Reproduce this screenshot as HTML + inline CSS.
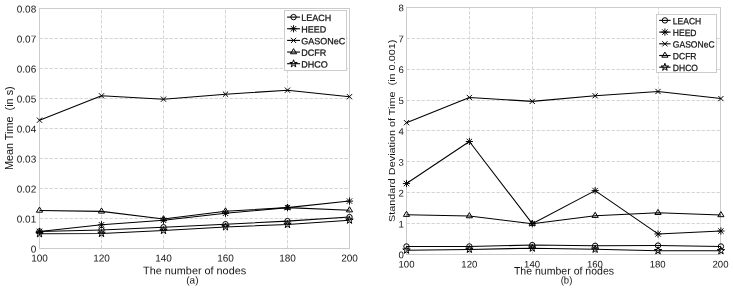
<!DOCTYPE html>
<html><head><meta charset="utf-8"><title>Mean time and standard deviation</title>
<style>html,body{margin:0;padding:0;background:#fff}svg{display:block;will-change:transform;filter:grayscale(1);font-family:"Liberation Sans",sans-serif}</style></head>
<body>
<svg width="733" height="290" viewBox="0 0 733 290" >
<rect width="733" height="290" fill="#fff"/>
<path d="M101.50 248.50L101.50 8.50M163.50 248.50L163.50 8.50M225.50 248.50L225.50 8.50M287.50 248.50L287.50 8.50M39.50 218.50L349.50 218.50M39.50 188.50L349.50 188.50M39.50 158.50L349.50 158.50M39.50 128.50L349.50 128.50M39.50 98.50L349.50 98.50M39.50 68.50L349.50 68.50M39.50 38.50L349.50 38.50" fill="none" stroke="#cacaca" stroke-width="0.8" stroke-dasharray="3.4 1.6"/>
<rect x="39.50" y="8.50" width="310.00" height="240.00" fill="none" stroke="#cccccc" stroke-width="1"/>
<text transform="translate(39.50 261.60) rotate(0.03) scale(1.0 1)" font-size="10" text-anchor="middle" fill="#151515">100</text>
<text transform="translate(101.50 261.60) rotate(0.03) scale(1.0 1)" font-size="10" text-anchor="middle" fill="#151515">120</text>
<text transform="translate(163.50 261.60) rotate(0.03) scale(1.0 1)" font-size="10" text-anchor="middle" fill="#151515">140</text>
<text transform="translate(225.50 261.60) rotate(0.03) scale(1.0 1)" font-size="10" text-anchor="middle" fill="#151515">160</text>
<text transform="translate(287.50 261.60) rotate(0.03) scale(1.0 1)" font-size="10" text-anchor="middle" fill="#151515">180</text>
<text transform="translate(349.50 261.60) rotate(0.03) scale(1.0 1)" font-size="10" text-anchor="middle" fill="#151515">200</text>
<text transform="translate(36.20 252.58) rotate(0.03) scale(1.0 1)" font-size="10" text-anchor="end" fill="#151515">0</text>
<text transform="translate(36.20 222.58) rotate(0.03) scale(1.0 1)" font-size="10" text-anchor="end" fill="#151515">0.01</text>
<text transform="translate(36.20 192.58) rotate(0.03) scale(1.0 1)" font-size="10" text-anchor="end" fill="#151515">0.02</text>
<text transform="translate(36.20 162.58) rotate(0.03) scale(1.0 1)" font-size="10" text-anchor="end" fill="#151515">0.03</text>
<text transform="translate(36.20 132.58) rotate(0.03) scale(1.0 1)" font-size="10" text-anchor="end" fill="#151515">0.04</text>
<text transform="translate(36.20 102.58) rotate(0.03) scale(1.0 1)" font-size="10" text-anchor="end" fill="#151515">0.05</text>
<text transform="translate(36.20 72.58) rotate(0.03) scale(1.0 1)" font-size="10" text-anchor="end" fill="#151515">0.06</text>
<text transform="translate(36.20 42.58) rotate(0.03) scale(1.0 1)" font-size="10" text-anchor="end" fill="#151515">0.07</text>
<text transform="translate(36.20 12.58) rotate(0.03) scale(1.0 1)" font-size="10" text-anchor="end" fill="#151515">0.08</text>
<text transform="translate(194.60 274.20) rotate(0.03) scale(1.0 1)" font-size="10.85" text-anchor="middle" fill="#151515">The number of nodes</text>
<text transform="translate(192.40 283.50) rotate(0.03) scale(1.0 1)" font-size="10" text-anchor="middle" fill="#151515">(a)</text>
<text transform="translate(12.80 128.20) rotate(-90) scale(1 1.0)" font-size="10.85" text-anchor="middle" fill="#151515" xml:space="preserve" style="white-space:pre">Mean Time  (in s)</text>
<path d="M39.50 231.40L101.50 229.90L163.50 227.20L225.50 224.20L287.50 221.11L349.50 217.09" fill="none" stroke="#000" stroke-width="1.05" stroke-linejoin="round"/>
<circle transform="translate(39.50 231.40) scale(1.0 1)" r="2.7" fill="none" stroke="#000" stroke-width="1.0"/>
<circle transform="translate(101.50 229.90) scale(1.0 1)" r="2.7" fill="none" stroke="#000" stroke-width="1.0"/>
<circle transform="translate(163.50 227.20) scale(1.0 1)" r="2.7" fill="none" stroke="#000" stroke-width="1.0"/>
<circle transform="translate(225.50 224.20) scale(1.0 1)" r="2.7" fill="none" stroke="#000" stroke-width="1.0"/>
<circle transform="translate(287.50 221.11) scale(1.0 1)" r="2.7" fill="none" stroke="#000" stroke-width="1.0"/>
<circle transform="translate(349.50 217.09) scale(1.0 1)" r="2.7" fill="none" stroke="#000" stroke-width="1.0"/>
<path d="M39.50 231.40L101.50 224.80L163.50 220.30L225.50 213.31L287.50 207.61L349.50 201.10" fill="none" stroke="#000" stroke-width="1.05" stroke-linejoin="round"/>
<path transform="translate(39.50 231.40) scale(1.0 1)" d="M-2.7 -2.7L2.7 2.7M-2.7 2.7L2.7 -2.7M-3.6 0L3.6 0M0 -3.6L0 3.6" fill="none" stroke="#000" stroke-width="0.95"/>
<path transform="translate(101.50 224.80) scale(1.0 1)" d="M-2.7 -2.7L2.7 2.7M-2.7 2.7L2.7 -2.7M-3.6 0L3.6 0M0 -3.6L0 3.6" fill="none" stroke="#000" stroke-width="0.95"/>
<path transform="translate(163.50 220.30) scale(1.0 1)" d="M-2.7 -2.7L2.7 2.7M-2.7 2.7L2.7 -2.7M-3.6 0L3.6 0M0 -3.6L0 3.6" fill="none" stroke="#000" stroke-width="0.95"/>
<path transform="translate(225.50 213.31) scale(1.0 1)" d="M-2.7 -2.7L2.7 2.7M-2.7 2.7L2.7 -2.7M-3.6 0L3.6 0M0 -3.6L0 3.6" fill="none" stroke="#000" stroke-width="0.95"/>
<path transform="translate(287.50 207.61) scale(1.0 1)" d="M-2.7 -2.7L2.7 2.7M-2.7 2.7L2.7 -2.7M-3.6 0L3.6 0M0 -3.6L0 3.6" fill="none" stroke="#000" stroke-width="0.95"/>
<path transform="translate(349.50 201.10) scale(1.0 1)" d="M-2.7 -2.7L2.7 2.7M-2.7 2.7L2.7 -2.7M-3.6 0L3.6 0M0 -3.6L0 3.6" fill="none" stroke="#000" stroke-width="0.95"/>
<path d="M39.50 120.19L101.50 95.80L163.50 99.19L225.50 94.21L287.50 90.19L349.50 96.70" fill="none" stroke="#000" stroke-width="1.05" stroke-linejoin="round"/>
<path transform="translate(39.50 120.19) scale(1.0 1)" d="M-2.6 -2.6L2.6 2.6M-2.6 2.6L2.6 -2.6" fill="none" stroke="#000" stroke-width="1.0"/>
<path transform="translate(101.50 95.80) scale(1.0 1)" d="M-2.6 -2.6L2.6 2.6M-2.6 2.6L2.6 -2.6" fill="none" stroke="#000" stroke-width="1.0"/>
<path transform="translate(163.50 99.19) scale(1.0 1)" d="M-2.6 -2.6L2.6 2.6M-2.6 2.6L2.6 -2.6" fill="none" stroke="#000" stroke-width="1.0"/>
<path transform="translate(225.50 94.21) scale(1.0 1)" d="M-2.6 -2.6L2.6 2.6M-2.6 2.6L2.6 -2.6" fill="none" stroke="#000" stroke-width="1.0"/>
<path transform="translate(287.50 90.19) scale(1.0 1)" d="M-2.6 -2.6L2.6 2.6M-2.6 2.6L2.6 -2.6" fill="none" stroke="#000" stroke-width="1.0"/>
<path transform="translate(349.50 96.70) scale(1.0 1)" d="M-2.6 -2.6L2.6 2.6M-2.6 2.6L2.6 -2.6" fill="none" stroke="#000" stroke-width="1.0"/>
<path d="M39.50 210.49L101.50 211.39L163.50 219.10L225.50 211.21L287.50 207.61L349.50 210.19" fill="none" stroke="#000" stroke-width="1.05" stroke-linejoin="round"/>
<path transform="translate(39.50 210.49) scale(1.0 1)" d="M0 -3.4L3.1 1.7L-3.1 1.7Z" fill="none" stroke="#000" stroke-width="1.0"/>
<path transform="translate(101.50 211.39) scale(1.0 1)" d="M0 -3.4L3.1 1.7L-3.1 1.7Z" fill="none" stroke="#000" stroke-width="1.0"/>
<path transform="translate(163.50 219.10) scale(1.0 1)" d="M0 -3.4L3.1 1.7L-3.1 1.7Z" fill="none" stroke="#000" stroke-width="1.0"/>
<path transform="translate(225.50 211.21) scale(1.0 1)" d="M0 -3.4L3.1 1.7L-3.1 1.7Z" fill="none" stroke="#000" stroke-width="1.0"/>
<path transform="translate(287.50 207.61) scale(1.0 1)" d="M0 -3.4L3.1 1.7L-3.1 1.7Z" fill="none" stroke="#000" stroke-width="1.0"/>
<path transform="translate(349.50 210.19) scale(1.0 1)" d="M0 -3.4L3.1 1.7L-3.1 1.7Z" fill="none" stroke="#000" stroke-width="1.0"/>
<path d="M39.50 233.80L101.50 233.50L163.50 230.50L225.50 226.90L287.50 224.50L349.50 220.21" fill="none" stroke="#000" stroke-width="1.05" stroke-linejoin="round"/>
<path transform="translate(39.50 233.80) scale(1.0 1)" d="M0.00 -3.90L0.89 -1.23L3.71 -1.21L1.45 0.47L2.29 3.16L0.00 1.52L-2.29 3.16L-1.45 0.47L-3.71 -1.21L-0.89 -1.23Z" fill="none" stroke="#000" stroke-width="1.0" stroke-miterlimit="2"/>
<path transform="translate(101.50 233.50) scale(1.0 1)" d="M0.00 -3.90L0.89 -1.23L3.71 -1.21L1.45 0.47L2.29 3.16L0.00 1.52L-2.29 3.16L-1.45 0.47L-3.71 -1.21L-0.89 -1.23Z" fill="none" stroke="#000" stroke-width="1.0" stroke-miterlimit="2"/>
<path transform="translate(163.50 230.50) scale(1.0 1)" d="M0.00 -3.90L0.89 -1.23L3.71 -1.21L1.45 0.47L2.29 3.16L0.00 1.52L-2.29 3.16L-1.45 0.47L-3.71 -1.21L-0.89 -1.23Z" fill="none" stroke="#000" stroke-width="1.0" stroke-miterlimit="2"/>
<path transform="translate(225.50 226.90) scale(1.0 1)" d="M0.00 -3.90L0.89 -1.23L3.71 -1.21L1.45 0.47L2.29 3.16L0.00 1.52L-2.29 3.16L-1.45 0.47L-3.71 -1.21L-0.89 -1.23Z" fill="none" stroke="#000" stroke-width="1.0" stroke-miterlimit="2"/>
<path transform="translate(287.50 224.50) scale(1.0 1)" d="M0.00 -3.90L0.89 -1.23L3.71 -1.21L1.45 0.47L2.29 3.16L0.00 1.52L-2.29 3.16L-1.45 0.47L-3.71 -1.21L-0.89 -1.23Z" fill="none" stroke="#000" stroke-width="1.0" stroke-miterlimit="2"/>
<path transform="translate(349.50 220.21) scale(1.0 1)" d="M0.00 -3.90L0.89 -1.23L3.71 -1.21L1.45 0.47L2.29 3.16L0.00 1.52L-2.29 3.16L-1.45 0.47L-3.71 -1.21L-0.89 -1.23Z" fill="none" stroke="#000" stroke-width="1.0" stroke-miterlimit="2"/>
<rect x="284.50" y="10.50" width="62.00" height="60.00" fill="#fff" stroke="#cccccc" stroke-width="1"/>
<path d="M287.10 17.10L300.00 17.10" stroke="#000" stroke-width="1.1"/>
<circle transform="translate(293.55 17.10) scale(1.0 1)" r="2.7" fill="none" stroke="#000" stroke-width="1.0"/>
<text transform="translate(301.30 20.87) rotate(0.03) scale(1.0 1)" font-size="9.0" text-anchor="start" fill="#151515" stroke="#151515" stroke-width="0.25">LEACH</text>
<path d="M287.10 28.75L300.00 28.75" stroke="#000" stroke-width="1.1"/>
<path transform="translate(293.55 28.75) scale(1.0 1)" d="M-2.7 -2.7L2.7 2.7M-2.7 2.7L2.7 -2.7M-3.6 0L3.6 0M0 -3.6L0 3.6" fill="none" stroke="#000" stroke-width="0.95"/>
<text transform="translate(301.30 32.52) rotate(0.03) scale(1.0 1)" font-size="9.0" text-anchor="start" fill="#151515" stroke="#151515" stroke-width="0.25">HEED</text>
<path d="M287.10 40.40L300.00 40.40" stroke="#000" stroke-width="1.1"/>
<path transform="translate(293.55 40.40) scale(1.0 1)" d="M-2.6 -2.6L2.6 2.6M-2.6 2.6L2.6 -2.6" fill="none" stroke="#000" stroke-width="1.0"/>
<text transform="translate(301.30 44.17) rotate(0.03) scale(1.0 1)" font-size="9.0" text-anchor="start" fill="#151515" stroke="#151515" stroke-width="0.25">GASONeC</text>
<path d="M287.10 52.05L300.00 52.05" stroke="#000" stroke-width="1.1"/>
<path transform="translate(293.55 52.05) scale(1.0 1)" d="M0 -3.4L3.1 1.7L-3.1 1.7Z" fill="none" stroke="#000" stroke-width="1.0"/>
<text transform="translate(301.30 55.82) rotate(0.03) scale(1.0 1)" font-size="9.0" text-anchor="start" fill="#151515" stroke="#151515" stroke-width="0.25">DCFR</text>
<path d="M287.10 63.70L300.00 63.70" stroke="#000" stroke-width="1.1"/>
<path transform="translate(293.55 63.70) scale(1.0 1)" d="M0.00 -3.90L0.89 -1.23L3.71 -1.21L1.45 0.47L2.29 3.16L0.00 1.52L-2.29 3.16L-1.45 0.47L-3.71 -1.21L-0.89 -1.23Z" fill="none" stroke="#000" stroke-width="1.0" stroke-miterlimit="2"/>
<text transform="translate(301.30 67.47) rotate(0.03) scale(1.0 1)" font-size="9.0" text-anchor="start" fill="#151515" stroke="#151515" stroke-width="0.25">DHCO</text>
<path d="M469.50 254.50L469.50 7.50M532.50 254.50L532.50 7.50M595.50 254.50L595.50 7.50M658.50 254.50L658.50 7.50M406.50 223.50L720.50 223.50M406.50 192.50L720.50 192.50M406.50 161.50L720.50 161.50M406.50 130.50L720.50 130.50M406.50 100.50L720.50 100.50M406.50 69.50L720.50 69.50M406.50 38.50L720.50 38.50" fill="none" stroke="#cacaca" stroke-width="0.8" stroke-dasharray="3.4 1.6"/>
<rect x="406.50" y="7.50" width="314.00" height="247.00" fill="none" stroke="#cccccc" stroke-width="1"/>
<text transform="translate(406.50 267.60) rotate(0.03) scale(1.0 1)" font-size="9.6" text-anchor="middle" fill="#151515">100</text>
<text transform="translate(469.30 267.60) rotate(0.03) scale(1.0 1)" font-size="9.6" text-anchor="middle" fill="#151515">120</text>
<text transform="translate(532.10 267.60) rotate(0.03) scale(1.0 1)" font-size="9.6" text-anchor="middle" fill="#151515">140</text>
<text transform="translate(594.90 267.60) rotate(0.03) scale(1.0 1)" font-size="9.6" text-anchor="middle" fill="#151515">160</text>
<text transform="translate(657.70 267.60) rotate(0.03) scale(1.0 1)" font-size="9.6" text-anchor="middle" fill="#151515">180</text>
<text transform="translate(720.50 267.60) rotate(0.03) scale(1.0 1)" font-size="9.6" text-anchor="middle" fill="#151515">200</text>
<text transform="translate(403.80 258.34) rotate(0.03) scale(1.0 1)" font-size="9.6" text-anchor="end" fill="#151515">0</text>
<text transform="translate(403.80 227.46) rotate(0.03) scale(1.0 1)" font-size="9.6" text-anchor="end" fill="#151515">1</text>
<text transform="translate(403.80 196.59) rotate(0.03) scale(1.0 1)" font-size="9.6" text-anchor="end" fill="#151515">2</text>
<text transform="translate(403.80 165.71) rotate(0.03) scale(1.0 1)" font-size="9.6" text-anchor="end" fill="#151515">3</text>
<text transform="translate(403.80 134.84) rotate(0.03) scale(1.0 1)" font-size="9.6" text-anchor="end" fill="#151515">4</text>
<text transform="translate(403.80 103.96) rotate(0.03) scale(1.0 1)" font-size="9.6" text-anchor="end" fill="#151515">5</text>
<text transform="translate(403.80 73.09) rotate(0.03) scale(1.0 1)" font-size="9.6" text-anchor="end" fill="#151515">6</text>
<text transform="translate(403.80 42.21) rotate(0.03) scale(1.0 1)" font-size="9.6" text-anchor="end" fill="#151515">7</text>
<text transform="translate(403.80 11.34) rotate(0.03) scale(1.0 1)" font-size="9.6" text-anchor="end" fill="#151515">8</text>
<text transform="translate(564.00 274.60) rotate(0.03) scale(0.972 1)" font-size="10.85" text-anchor="middle" fill="#151515">The number of nodes</text>
<text transform="translate(566.50 283.50) rotate(0.03) scale(0.95 1)" font-size="10" text-anchor="middle" fill="#151515">(b)</text>
<text transform="translate(394.80 130.90) rotate(-90) scale(1 0.92)" font-size="10.85" text-anchor="middle" fill="#151515" xml:space="preserve" style="white-space:pre">Standard Deviation of Time  (in 0.001)</text>
<path d="M406.50 246.47L469.38 246.47L532.26 245.08L595.14 245.85L658.02 245.55L720.90 246.47" fill="none" stroke="#000" stroke-width="1.05" stroke-linejoin="round"/>
<circle transform="translate(406.50 246.47) scale(1.0 1)" r="2.7" fill="none" stroke="#000" stroke-width="1.0"/>
<circle transform="translate(469.38 246.47) scale(1.0 1)" r="2.7" fill="none" stroke="#000" stroke-width="1.0"/>
<circle transform="translate(532.26 245.08) scale(1.0 1)" r="2.7" fill="none" stroke="#000" stroke-width="1.0"/>
<circle transform="translate(595.14 245.85) scale(1.0 1)" r="2.7" fill="none" stroke="#000" stroke-width="1.0"/>
<circle transform="translate(658.02 245.55) scale(1.0 1)" r="2.7" fill="none" stroke="#000" stroke-width="1.0"/>
<circle transform="translate(720.90 246.47) scale(1.0 1)" r="2.7" fill="none" stroke="#000" stroke-width="1.0"/>
<path d="M406.50 183.55L469.38 141.50L532.26 223.69L595.14 190.59L658.02 233.91L720.90 231.03" fill="none" stroke="#000" stroke-width="1.05" stroke-linejoin="round"/>
<path transform="translate(406.50 183.55) scale(1.0 1)" d="M-2.7 -2.7L2.7 2.7M-2.7 2.7L2.7 -2.7M-3.6 0L3.6 0M0 -3.6L0 3.6" fill="none" stroke="#000" stroke-width="0.95"/>
<path transform="translate(469.38 141.50) scale(1.0 1)" d="M-2.7 -2.7L2.7 2.7M-2.7 2.7L2.7 -2.7M-3.6 0L3.6 0M0 -3.6L0 3.6" fill="none" stroke="#000" stroke-width="0.95"/>
<path transform="translate(532.26 223.69) scale(1.0 1)" d="M-2.7 -2.7L2.7 2.7M-2.7 2.7L2.7 -2.7M-3.6 0L3.6 0M0 -3.6L0 3.6" fill="none" stroke="#000" stroke-width="0.95"/>
<path transform="translate(595.14 190.59) scale(1.0 1)" d="M-2.7 -2.7L2.7 2.7M-2.7 2.7L2.7 -2.7M-3.6 0L3.6 0M0 -3.6L0 3.6" fill="none" stroke="#000" stroke-width="0.95"/>
<path transform="translate(658.02 233.91) scale(1.0 1)" d="M-2.7 -2.7L2.7 2.7M-2.7 2.7L2.7 -2.7M-3.6 0L3.6 0M0 -3.6L0 3.6" fill="none" stroke="#000" stroke-width="0.95"/>
<path transform="translate(720.90 231.03) scale(1.0 1)" d="M-2.7 -2.7L2.7 2.7M-2.7 2.7L2.7 -2.7M-3.6 0L3.6 0M0 -3.6L0 3.6" fill="none" stroke="#000" stroke-width="0.95"/>
<path d="M406.50 122.66L469.38 97.47L532.26 101.36L595.14 95.80L658.02 91.48L720.90 98.58" fill="none" stroke="#000" stroke-width="1.05" stroke-linejoin="round"/>
<path transform="translate(406.50 122.66) scale(1.0 1)" d="M-2.6 -2.6L2.6 2.6M-2.6 2.6L2.6 -2.6" fill="none" stroke="#000" stroke-width="1.0"/>
<path transform="translate(469.38 97.47) scale(1.0 1)" d="M-2.6 -2.6L2.6 2.6M-2.6 2.6L2.6 -2.6" fill="none" stroke="#000" stroke-width="1.0"/>
<path transform="translate(532.26 101.36) scale(1.0 1)" d="M-2.6 -2.6L2.6 2.6M-2.6 2.6L2.6 -2.6" fill="none" stroke="#000" stroke-width="1.0"/>
<path transform="translate(595.14 95.80) scale(1.0 1)" d="M-2.6 -2.6L2.6 2.6M-2.6 2.6L2.6 -2.6" fill="none" stroke="#000" stroke-width="1.0"/>
<path transform="translate(658.02 91.48) scale(1.0 1)" d="M-2.6 -2.6L2.6 2.6M-2.6 2.6L2.6 -2.6" fill="none" stroke="#000" stroke-width="1.0"/>
<path transform="translate(720.90 98.58) scale(1.0 1)" d="M-2.6 -2.6L2.6 2.6M-2.6 2.6L2.6 -2.6" fill="none" stroke="#000" stroke-width="1.0"/>
<path d="M406.50 214.67L469.38 216.06L532.26 223.69L595.14 215.69L658.02 212.82L720.90 214.98" fill="none" stroke="#000" stroke-width="1.05" stroke-linejoin="round"/>
<path transform="translate(406.50 214.67) scale(1.0 1)" d="M0 -3.4L3.1 1.7L-3.1 1.7Z" fill="none" stroke="#000" stroke-width="1.0"/>
<path transform="translate(469.38 216.06) scale(1.0 1)" d="M0 -3.4L3.1 1.7L-3.1 1.7Z" fill="none" stroke="#000" stroke-width="1.0"/>
<path transform="translate(532.26 223.69) scale(1.0 1)" d="M0 -3.4L3.1 1.7L-3.1 1.7Z" fill="none" stroke="#000" stroke-width="1.0"/>
<path transform="translate(595.14 215.69) scale(1.0 1)" d="M0 -3.4L3.1 1.7L-3.1 1.7Z" fill="none" stroke="#000" stroke-width="1.0"/>
<path transform="translate(658.02 212.82) scale(1.0 1)" d="M0 -3.4L3.1 1.7L-3.1 1.7Z" fill="none" stroke="#000" stroke-width="1.0"/>
<path transform="translate(720.90 214.98) scale(1.0 1)" d="M0 -3.4L3.1 1.7L-3.1 1.7Z" fill="none" stroke="#000" stroke-width="1.0"/>
<path d="M406.50 250.18L469.38 249.41L532.26 248.17L595.14 249.25L658.02 250.70L720.90 250.79" fill="none" stroke="#000" stroke-width="1.05" stroke-linejoin="round"/>
<path transform="translate(406.50 250.18) scale(1.0 1)" d="M0.00 -3.90L0.89 -1.23L3.71 -1.21L1.45 0.47L2.29 3.16L0.00 1.52L-2.29 3.16L-1.45 0.47L-3.71 -1.21L-0.89 -1.23Z" fill="none" stroke="#000" stroke-width="1.0" stroke-miterlimit="2"/>
<path transform="translate(469.38 249.41) scale(1.0 1)" d="M0.00 -3.90L0.89 -1.23L3.71 -1.21L1.45 0.47L2.29 3.16L0.00 1.52L-2.29 3.16L-1.45 0.47L-3.71 -1.21L-0.89 -1.23Z" fill="none" stroke="#000" stroke-width="1.0" stroke-miterlimit="2"/>
<path transform="translate(532.26 248.17) scale(1.0 1)" d="M0.00 -3.90L0.89 -1.23L3.71 -1.21L1.45 0.47L2.29 3.16L0.00 1.52L-2.29 3.16L-1.45 0.47L-3.71 -1.21L-0.89 -1.23Z" fill="none" stroke="#000" stroke-width="1.0" stroke-miterlimit="2"/>
<path transform="translate(595.14 249.25) scale(1.0 1)" d="M0.00 -3.90L0.89 -1.23L3.71 -1.21L1.45 0.47L2.29 3.16L0.00 1.52L-2.29 3.16L-1.45 0.47L-3.71 -1.21L-0.89 -1.23Z" fill="none" stroke="#000" stroke-width="1.0" stroke-miterlimit="2"/>
<path transform="translate(658.02 250.70) scale(1.0 1)" d="M0.00 -3.90L0.89 -1.23L3.71 -1.21L1.45 0.47L2.29 3.16L0.00 1.52L-2.29 3.16L-1.45 0.47L-3.71 -1.21L-0.89 -1.23Z" fill="none" stroke="#000" stroke-width="1.0" stroke-miterlimit="2"/>
<path transform="translate(720.90 250.79) scale(1.0 1)" d="M0.00 -3.90L0.89 -1.23L3.71 -1.21L1.45 0.47L2.29 3.16L0.00 1.52L-2.29 3.16L-1.45 0.47L-3.71 -1.21L-0.89 -1.23Z" fill="none" stroke="#000" stroke-width="1.0" stroke-miterlimit="2"/>
<rect x="656.50" y="14.50" width="60.00" height="58.00" fill="#fff" stroke="#cccccc" stroke-width="1"/>
<path d="M659.20 20.40L670.60 20.40" stroke="#000" stroke-width="1.1"/>
<circle transform="translate(664.90 20.40) scale(1.0 1)" r="2.7" fill="none" stroke="#000" stroke-width="1.0"/>
<text transform="translate(672.80 24.17) rotate(0.03) scale(0.95 1)" font-size="9.0" text-anchor="start" fill="#151515" stroke="#151515" stroke-width="0.25">LEACH</text>
<path d="M659.20 32.10L670.60 32.10" stroke="#000" stroke-width="1.1"/>
<path transform="translate(664.90 32.10) scale(1.0 1)" d="M-2.7 -2.7L2.7 2.7M-2.7 2.7L2.7 -2.7M-3.6 0L3.6 0M0 -3.6L0 3.6" fill="none" stroke="#000" stroke-width="0.95"/>
<text transform="translate(672.80 35.87) rotate(0.03) scale(0.95 1)" font-size="9.0" text-anchor="start" fill="#151515" stroke="#151515" stroke-width="0.25">HEED</text>
<path d="M659.20 43.80L670.60 43.80" stroke="#000" stroke-width="1.1"/>
<path transform="translate(664.90 43.80) scale(1.0 1)" d="M-2.6 -2.6L2.6 2.6M-2.6 2.6L2.6 -2.6" fill="none" stroke="#000" stroke-width="1.0"/>
<text transform="translate(672.80 47.57) rotate(0.03) scale(0.95 1)" font-size="9.0" text-anchor="start" fill="#151515" stroke="#151515" stroke-width="0.25">GASONeC</text>
<path d="M659.20 55.50L670.60 55.50" stroke="#000" stroke-width="1.1"/>
<path transform="translate(664.90 55.50) scale(1.0 1)" d="M0 -3.4L3.1 1.7L-3.1 1.7Z" fill="none" stroke="#000" stroke-width="1.0"/>
<text transform="translate(672.80 59.27) rotate(0.03) scale(0.95 1)" font-size="9.0" text-anchor="start" fill="#151515" stroke="#151515" stroke-width="0.25">DCFR</text>
<path d="M659.20 67.20L670.60 67.20" stroke="#000" stroke-width="1.1"/>
<path transform="translate(664.90 67.20) scale(1.0 1)" d="M0.00 -3.90L0.89 -1.23L3.71 -1.21L1.45 0.47L2.29 3.16L0.00 1.52L-2.29 3.16L-1.45 0.47L-3.71 -1.21L-0.89 -1.23Z" fill="none" stroke="#000" stroke-width="1.0" stroke-miterlimit="2"/>
<text transform="translate(672.80 70.97) rotate(0.03) scale(0.95 1)" font-size="9.0" text-anchor="start" fill="#151515" stroke="#151515" stroke-width="0.25">DHCO</text>
</svg>
</body></html>
